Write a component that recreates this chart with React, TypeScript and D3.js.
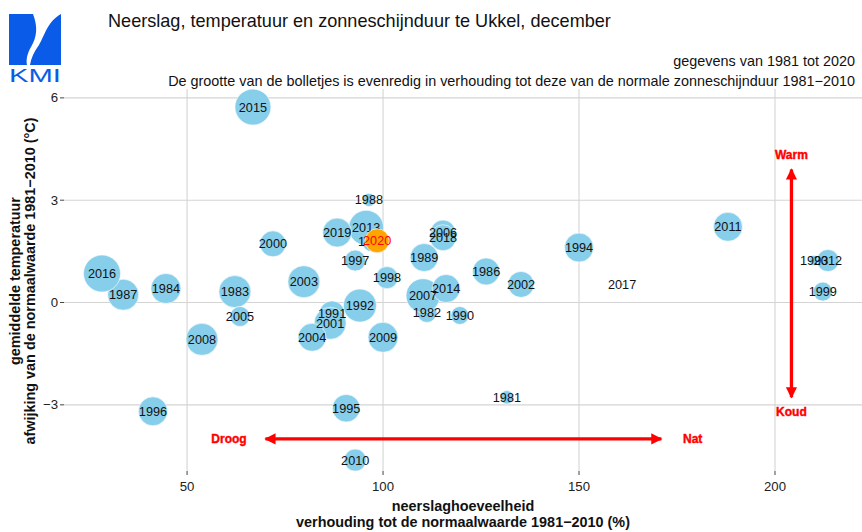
import React from 'react';
import * as d3 from 'd3';

const years = [1981, 1982, 1983, 1984, 1985, 1986, 1987, 1988, 1989, 1990,
  1991, 1992, 1993, 1994, 1995, 1996, 1997, 1998, 1999, 2000,
  2001, 2002, 2003, 2004, 2005, 2006, 2007, 2008, 2009, 2010,
  2011, 2012, 2013, 2014, 2015, 2016, 2017, 2018, 2019, 2020];

// neerslag, % van normaal
const precip = [131.6, 111.2, 62.2, 44.6, 97.2, 126.3, 33.7, 96.4, 110.5, 119.6,
  87.0, 94.1, 210.0, 150.0, 90.6, 41.3, 92.9, 101.0, 212.2, 71.9,
  86.5, 135.2, 79.8, 81.9, 63.5, 115.3, 110.2, 53.8, 100.0, 92.9,
  188.0, 213.5, 95.7, 116.1, 66.8, 28.3, 161.0, 115.3, 88.3, 98.5];

// temperatuur, afwijking in graden
const tempAnom = [-2.78, -0.29, 0.32, 0.41, 1.78, 0.91, 0.23, 3.01, 1.32, -0.38,
  -0.32, -0.09, 1.23, 1.61, -3.1, -3.19, 1.23, 0.73, 0.32, 1.72,
  -0.61, 0.53, 0.61, -1.02, -0.41, 2.05, 0.2, -1.08, -1.02, -4.62,
  2.22, 1.23, 2.19, 0.41, 5.73, 0.85, 0.53, 1.9, 2.05, 1.81];

// zonneschijnduur, % van normaal
const sunshine = [23, 51, 131, 115, 51, 93, 123, 22, 100, 41,
  80, 139, 13, 107, 97, 107, 56, 62, 46, 86,
  131, 86, 131, 100, 51, 80, 147, 131, 115, 62,
  107, 62, 156, 100, 165, 175, 1, 86, 107, 73];

const xTicks = [50, 100, 150, 200];
const yTicks = [-3, 0, 3, 6];

const W = 862;
const H = 532;
const left = 64, right = 862, top = 89, bottom = 471;
const font = 'Liberation Sans, Arial, Helvetica, sans-serif';

export default function App() {
  const x = d3.scaleLinear().domain([18.6, 222.2]).range([left, right]);
  const y = d3.scaleLinear().domain([-4.94, 6.26]).range([bottom, top]);
  const r = d3.scaleSqrt().domain([0, 100]).range([0, 14]);

  const pts = years.map((yr, i) => ({ yr, px: precip[i], t: tempAnom[i], s: sunshine[i] }));
  const others = pts.filter(d => d.yr !== 2020);
  const last = pts.find(d => d.yr === 2020)!;
  const fmt = (v: number) => (v < 0 ? '\u2212' + Math.abs(v) : String(v));

  const red = '#ff0000';
  const arrowH = { x1: x(70), x2: x(171), y: y(-4) };
  const arrowV = { x: x(204.2), y1: y(3.9), y2: y(-2.78) };

  return (
    <svg width={W} height={H} style={{ position: 'absolute', left: 0, top: 0 }} fontFamily={font}>
      <defs>
        <marker id="ah" viewBox="0 0 10 10" refX="9" refY="5" markerWidth="4.2" markerHeight="3.4"
          orient="auto-start-reverse" markerUnits="strokeWidth">
          <path d="M0,0 L10,5 L0,10 Z" fill={red} />
        </marker>
      </defs>
      <rect width={W} height={H} fill="#fff" />

      {/* logo */}
      <g fill="#0a5ce8">
        <path d="M9,14 L33,14 C38,27 37,37 31,47 C27,54 26,60 27,65 L9,65 Z" />
        <path d="M61,14 L61,65 L30,65 C31,58 34,52 39,45 C45,35 47,22 61,14 Z" />
        <text x={9} y={82} fontSize={19} textLength={52} lengthAdjust="spacingAndGlyphs">KMI</text>
      </g>

      <text x={108} y={27} fontSize={18.1} fill="#111">Neerslag, temperatuur en zonneschijnduur te Ukkel, december</text>
      <text x={855} y={66} fontSize={14.4} textAnchor="end" fill="#111">gegevens van 1981 tot 2020</text>
      <text x={855} y={86} fontSize={14.4} textAnchor="end" fill="#111">De grootte van de bolletjes is evenredig in verhouding tot deze van de normale zonneschijnduur 1981{'\u2212'}2010</text>

      {/* grid */}
      {yTicks.map(t => (
        <g key={'y' + t}>
          <line x1={left} x2={right} y1={y(t)} y2={y(t)} stroke="#d4d4d4" strokeWidth={1.1} />
          <line x1={left - 4} x2={left} y1={y(t)} y2={y(t)} stroke="#444" strokeWidth={1} />
          <text x={left - 6} y={y(t)} dy="0.35em" fontSize={13.2} textAnchor="end" fill="#222">{fmt(t)}</text>
        </g>
      ))}
      {xTicks.map(t => (
        <g key={'x' + t}>
          <line x1={x(t)} x2={x(t)} y1={top} y2={bottom} stroke="#d4d4d4" strokeWidth={1.1} />
          <line x1={x(t)} x2={x(t)} y1={bottom} y2={bottom + 4} stroke="#444" strokeWidth={1} />
          <text x={x(t)} y={bottom + 20} fontSize={13.2} textAnchor="middle" fill="#222">{t}</text>
        </g>
      ))}

      {/* bolletjes */}
      {others.map(d => (
        <circle key={'c' + d.yr} cx={x(d.px)} cy={y(d.t)} r={r(d.s)} fill="#87ceeb" stroke="#fff" strokeWidth={0.6} />
      ))}
      {others.map(d => (
        <text key={'t' + d.yr} x={x(d.px)} y={y(d.t)} dy="0.36em" fontSize={12.7} textAnchor="middle" fill="#111">{d.yr}</text>
      ))}
      <circle cx={x(last.px)} cy={y(last.t)} r={r(last.s)} fill="#ffa500" stroke="#fff" strokeWidth={0.6} />
      <text x={x(last.px)} y={y(last.t)} dy="0.36em" fontSize={12.7} textAnchor="middle" fill={red}>{last.yr}</text>

      {/* pijlen */}
      <line x1={arrowH.x1} x2={arrowH.x2} y1={arrowH.y} y2={arrowH.y} stroke={red} strokeWidth={3.3}
        markerStart="url(#ah)" markerEnd="url(#ah)" />
      <line x1={arrowV.x} x2={arrowV.x} y1={arrowV.y1} y2={arrowV.y2} stroke={red} strokeWidth={3.3}
        markerStart="url(#ah)" markerEnd="url(#ah)" />
      <g fontSize={12} fontWeight="bold" fill={red} stroke={red} strokeWidth={0.4} textAnchor="middle">
        <text x={x(60.7)} y={arrowH.y} dy="0.36em">Droog</text>
        <text x={x(179)} y={arrowH.y} dy="0.36em">Nat</text>
        <text x={arrowV.x} y={y(4.33)} dy="0.36em">Warm</text>
        <text x={arrowV.x} y={y(-3.19)} dy="0.36em">Koud</text>
      </g>

      {/* as-titels */}
      <g fontSize={14.4} fontWeight="bold" fill="#111" textAnchor="middle">
        <text x={463} y={511}>neerslaghoeveelheid</text>
        <text x={463} y={527}>verhouding tot de normaalwaarde 1981{'\u2212'}2010 (%)</text>
        <g transform="translate(0,281) rotate(-90)">
          <text x={0} y={20}>gemiddelde temperatuur</text>
          <text x={0} y={35}>afwijking van de normaalwaarde 1981{'\u2212'}2010 ({'\u00b0'}C)</text>
        </g>
      </g>
    </svg>
  );
}
